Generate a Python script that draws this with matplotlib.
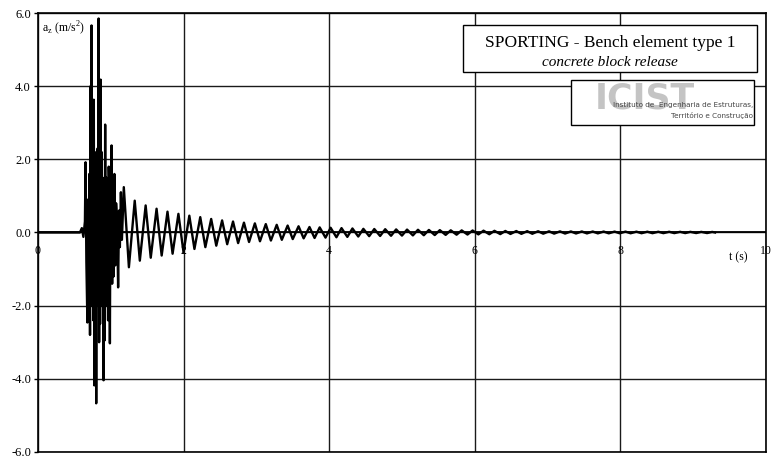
import matplotlib
matplotlib.use("Agg")
import matplotlib.pyplot as plt
from matplotlib.patches import Rectangle

# Step 1: values
# impact phase - dense spikes right after the block is released
burst_t = [0.000, 0.577, 0.604, 0.625, 0.646, 0.655, 0.666, 0.680, 0.689, 0.697,
           0.706, 0.716, 0.723, 0.730, 0.737, 0.745, 0.754, 0.761, 0.768, 0.775,
           0.781, 0.788, 0.795, 0.801, 0.808, 0.814, 0.821, 0.827, 0.834, 0.841,
           0.848, 0.854, 0.861, 0.868, 0.875, 0.881, 0.888, 0.895, 0.902, 0.909,
           0.916, 0.924, 0.931, 0.940, 0.948, 0.956, 0.964, 0.973, 0.981, 0.989,
           0.997, 1.005, 1.012, 1.020, 1.030, 1.041, 1.051, 1.062, 1.074, 1.088,
           1.102, 1.115, 1.126, 1.140, 1.154]
burst_a = [0.00, 0.00, 0.12, -0.12, 0.30, 1.92, -0.80, -2.46, 0.90, -1.80,
           1.60, -2.80, 4.00, -2.00, 5.66, -1.50, 2.50, -2.40, 3.63, -4.18,
           2.20, -3.00, 1.80, -4.67, 2.00, -1.50, 2.30, -2.00, 5.85, -3.00,
           2.00, -2.50, 4.18, -2.00, 2.20, -1.80, 1.50, 0.50, -4.04, 1.00,
           -2.95, 2.95, -1.20, 1.50, -2.00, 1.20, -2.40, 1.80, 1.00, -3.03,
           1.30, -1.00, 2.38, -1.40, 0.90, -1.20, 1.60, -0.90, 0.80, 0.30,
           -1.50, 0.60, -0.40, 1.10, -0.20]

# free vibration - alternating peaks and troughs
ring_t = [1.18, 1.25, 1.33, 1.40, 1.48, 1.55, 1.63, 1.70, 1.78, 1.85,
          1.93, 2.00, 2.08, 2.15, 2.23, 2.30, 2.38, 2.45, 2.53, 2.60,
          2.68, 2.75, 2.83, 2.90, 2.98, 3.05, 3.13, 3.20, 3.28, 3.35,
          3.43, 3.50, 3.58, 3.65, 3.73, 3.80, 3.87, 3.95, 4.02, 4.10,
          4.17, 4.25, 4.32, 4.40, 4.47, 4.55, 4.62, 4.70, 4.77, 4.85,
          4.92, 5.00, 5.07, 5.15, 5.22, 5.30, 5.37, 5.45, 5.52, 5.60,
          5.67, 5.75, 5.82, 5.90, 5.97, 6.05, 6.12, 6.20, 6.27, 6.35,
          6.42, 6.49, 6.57, 6.64, 6.72, 6.79, 6.87, 6.94, 7.02, 7.09,
          7.17, 7.24, 7.32, 7.39, 7.47, 7.54, 7.62, 7.69, 7.77, 7.84,
          7.92, 7.99, 8.07, 8.14, 8.22, 8.29, 8.37, 8.44, 8.52, 8.59,
          8.67, 8.74, 8.82, 8.89, 8.96, 9.04, 9.11, 9.19, 9.26, 9.30]
ring_a = [1.24, -0.95, 0.87, -0.77, 0.74, -0.69, 0.65, -0.63, 0.57, -0.58,
          0.51, -0.54, 0.46, -0.45, 0.42, -0.40, 0.37, -0.36, 0.33, -0.32,
          0.30, -0.29, 0.27, -0.26, 0.25, -0.24, 0.23, -0.22, 0.21, -0.20,
          0.19, -0.18, 0.17, -0.16, 0.15, -0.15, 0.14, -0.14, 0.13, -0.13,
          0.12, -0.12, 0.11, -0.11, 0.10, -0.10, 0.095, -0.095, 0.09, -0.09,
          0.085, -0.085, 0.08, -0.08, 0.075, -0.075, 0.07, -0.07, 0.065, -0.065,
          0.06, -0.06, 0.058, -0.056, 0.055, -0.052, 0.05, -0.048, 0.046, -0.044,
          0.042, -0.040, 0.040, -0.037, 0.037, -0.035, 0.035, -0.033, 0.033, -0.031,
          0.031, -0.029, 0.029, -0.027, 0.028, -0.025, 0.027, -0.024, 0.026, -0.023,
          0.025, -0.022, 0.024, -0.021, 0.023, -0.020, 0.022, -0.019, 0.021, -0.018,
          0.020, -0.017, 0.019, -0.016, 0.018, -0.015, 0.017, -0.015, 0.016, 0.0]

y_ticks = [-6, -4, -2, 0, 2, 4, 6]
y_labels = ["-6.0", "-4.0", "-2.0", "0.0", "2.0", "4.0", "6.0"]
x_ticks = [0, 2, 4, 6, 8, 10]
x_labels = ["0", "2", "4", "6", "8", "10"]

title_1 = "SPORTING - Bench element type 1"
title_2 = "concrete block release"
logo_big = "ICIST"
logo_1 = "Instituto de  Engenharia de Estruturas,"
logo_2 = "Território e Construção"

serif = "Liberation Serif"

# Step 2: figure
fig = plt.figure(figsize=(7.73, 4.57), dpi=100)
ax = fig.add_axes([0.049, 0.011, 0.942, 0.9605])

t = burst_t + ring_t
a = burst_a + ring_a
ax.plot(t, a, color="black", lw=1.7, zorder=3, solid_joinstyle="round")

ax.set_xlim(0, 10)
ax.set_ylim(-6, 6)
ax.set_xticks(x_ticks)
ax.set_yticks(y_ticks)
ax.set_yticklabels(y_labels, fontfamily=serif, fontsize=9)
ax.tick_params(axis="x", bottom=False, labelbottom=False)
ax.tick_params(axis="y", length=3, width=1, pad=2)
ax.grid(True, color="#1a1a1a", lw=1)
ax.axhline(0, color="black", lw=1.3, zorder=2)
for s in ax.spines.values():
    s.set_linewidth(1.2)

# x tick labels sit just below the zero line
for xv, lab in zip(x_ticks, x_labels):
    ax.text(xv, -0.5, lab, ha="center", va="center", fontfamily=serif,
            fontsize=8.5, clip_on=False, zorder=4)

ax.text(9.62, -0.68, "t (s)", ha="center", va="center", fontfamily=serif,
        fontsize=8.5)
ax.text(0.06, 5.6, r"a$_\mathregular{z}$ (m/s$^\mathregular{2}$)", ha="left",
        va="center", fontfamily=serif, fontsize=8.5,
        bbox=dict(facecolor="white", edgecolor="none", pad=1))

# title box
ax.add_patch(Rectangle((5.84, 4.38), 4.04, 1.28, facecolor="white",
                       edgecolor="black", lw=1, zorder=5))
ax.text(7.86, 5.19, title_1, ha="center", va="center", fontfamily=serif,
        fontsize=12.5, zorder=6)
ax.text(7.86, 4.65, title_2, ha="center", va="center", fontfamily=serif,
        fontsize=11, style="italic", zorder=6)

# logo box
ax.add_patch(Rectangle((7.32, 2.93), 2.52, 1.25, facecolor="white",
                       edgecolor="black", lw=1, zorder=5))
ax.text(8.33, 3.66, logo_big, ha="center", va="center", fontfamily="DejaVu Sans",
        fontsize=25, fontweight="bold", color="#c4c4c4", zorder=6)
ax.text(9.82, 3.48, logo_1, ha="right", va="center", fontfamily="DejaVu Sans",
        fontsize=5.2, color="#444444", zorder=7)
ax.text(9.82, 3.20, logo_2, ha="right", va="center", fontfamily="DejaVu Sans",
        fontsize=5.2, color="#444444", zorder=7)

plt.savefig("out.png", dpi=100)
